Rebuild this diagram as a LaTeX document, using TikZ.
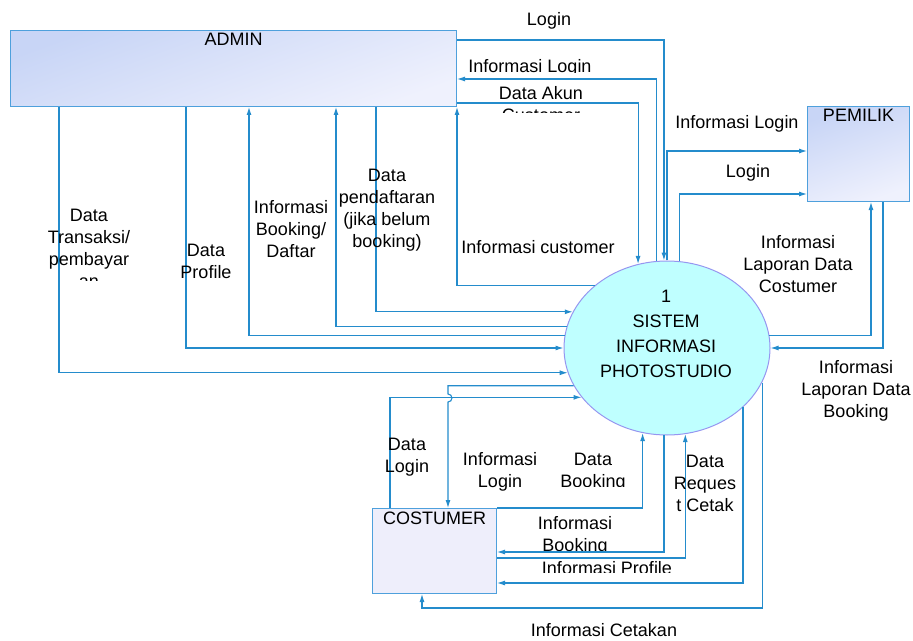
\documentclass[tikz,border=0pt]{standalone}
\usepackage{fontspec}
\setmainfont{Liberation Sans}
\usetikzlibrary{arrows.meta, shapes.geometric}

\definecolor{flowblue}{RGB}{36,140,204}
\definecolor{boxblue}{RGB}{78,160,220}
\definecolor{entitytop}{RGB}{200,213,246}
\definecolor{entitybot}{RGB}{239,241,253}
\definecolor{custfill}{RGB}{238,238,251}
\definecolor{sysfill}{RGB}{191,255,255}
\definecolor{sysline}{RGB}{150,150,240}

\begin{document}
\begin{tikzpicture}[x=1bp, y=-1bp,
    every node/.style={font=\fontsize{18bp}{22bp}\selectfont, align=center},
    entity/.style={draw=boxblue, line width=1bp, inner sep=0pt, anchor=north west},
    flow/.style={draw=flowblue, line width=1.1bp, -{Latex[length=8bp, width=5bp]}}]
  \useasboundingbox (0,0) rectangle (913,641);

  % entities and process
  \node[entity, minimum width=446bp, minimum height=76bp,
    top color=entitytop, bottom color=entitybot, shading angle=20] (admin) at (10,30) {};
  \node[anchor=north] (adminlbl) at (admin.north) {ADMIN};
  \node[entity, minimum width=102bp, minimum height=95bp,
    top color=entitytop, bottom color=entitybot, shading angle=20] (pemilik) at (807,106) {};
  \node[anchor=north] (pemiliklbl) at (pemilik.north) {PEMILIK};
  \node[entity, minimum width=124bp, minimum height=85bp, fill=custfill] (costumer) at (372,508) {};
  \node[anchor=north] (costumerlbl) at (costumer.north) {COSTUMER};
  \node[ellipse, draw=sysline, fill=sysfill, line width=1bp, inner sep=0pt,
    minimum width=206bp, minimum height=174bp] (sys) at (667,348) {};
  \node[font=\fontsize{18bp}{25bp}\selectfont] (systxt) at (666,334) {1\\SISTEM\\INFORMASI\\PHOTOSTUDIO};

  % ADMIN <-> sistem
  \draw[flow] (admin.south -| 59,0) |- (sys.194.2);
  \draw[flow] (admin.south -| 186,0) |- (sys.180.6);
  \draw[flow] (sys.173.3) -| (admin.south -| 249,0);
  \draw[flow] (sys.168.7) -| (admin.south -| 336,0);
  \draw[flow] (admin.south -| 376,0) |- (sys.159.0);
  \draw[flow] (sys.139.4) -| (admin.south east);
  \draw[flow] (admin.east |- 0,103) -| (sys.109.2);
  \draw[flow] (sys.97.2) |- (admin.east |- 0,79);
  \draw[flow] (admin.east |- 0,40) -| (sys.92.6);

  % PEMILIK <-> sistem
  \draw[flow] (sys.90.7) |- (pemilik.west |- 0,151);
  \draw[flow] (sys.82.8) |- (pemilik.west |- 0,194);
  \draw[flow] (sys.7.3) -| (pemilik.south -| 871,0);
  \draw[flow] (pemilik.south -| 883,0) |- (sys.0.6);

  % COSTUMER <-> sistem
  \coordinate (hop) at (448,394);
  \draw[flow] (sys.202.3) -| (hop) arc[start angle=-90, end angle=90, radius=4] -- (costumer.north -| hop);
  \draw[flow] (costumer.north -| 390,0) |- (sys.210.7);
  \draw[flow] (costumer.north east) -| (sys.254.8);
  \draw[flow] (sys.268.0) |- (costumer.east |- 0,552);
  \draw[flow] (costumer.east |- 0,558) -| (sys.282.5);
  \draw[flow] (sys.322.3) |- (costumer.east |- 0,583);
  \draw[flow] (sys.340.5) -- (sys.340.5 |- 0,608) -| (costumer.south -| 422,0);

  % labels
  \node (lLogin) at (549,21) {Login};
  \begin{scope}
    \clip (400,50) rectangle (660,73);
    \node (lInfLogin) at (530,68) {Informasi Login};
  \end{scope}
  \begin{scope}
    \clip (460,80) rectangle (630,113);
    \node (lAkun) at (541,104) {Data Akun\\Customer};
  \end{scope}
  \node (lCust) at (538,247) {Informasi customer};
  \begin{scope}
    \clip (30,195) rectangle (150,280);
    \node (lTrans) at (89,248) {Data\\Transaksi/\\pembayar\\an};
  \end{scope}
  \node (lProfile) at (206,261) {Data\\Profile};
  \node (lInfBook) at (291,229) {Informasi\\Booking/\\Daftar};
  \node (lDaftar) at (387,210) {Data\\pendaftaran\\(jika belum\\booking)};
  \node (lPemInf) at (737,124) {Informasi Login};
  \node (lPemLogin) at (748,173) {Login};
  \node (lLapCost) at (798,264) {Informasi\\Laporan Data\\Costumer};
  \node (lLapBook) at (856,391) {Informasi\\Laporan Data\\Booking};
  \node (lDataLogin) at (407,457) {Data\\Login};
  \node (lCustLogin) at (500,472) {Informasi\\Login};
  \begin{scope}
    \clip (540,440) rectangle (650,486);
    \node (lDataBook) at (593,472) {Data\\Booking};
  \end{scope}
  \node (lReq) at (705,483) {Data\\Reques\\t Cetak};
  \begin{scope}
    \clip (520,505) rectangle (630,550);
    \node (lInfBooking) at (575,536) {Informasi\\Booking};
  \end{scope}
  \begin{scope}
    \clip (520,555) rectangle (700,572);
    \node (lInfProf) at (607,568) {Informasi Profile};
  \end{scope}
  \node (lCetak) at (604,630) {Informasi Cetakan};
\end{tikzpicture}
\end{document}
